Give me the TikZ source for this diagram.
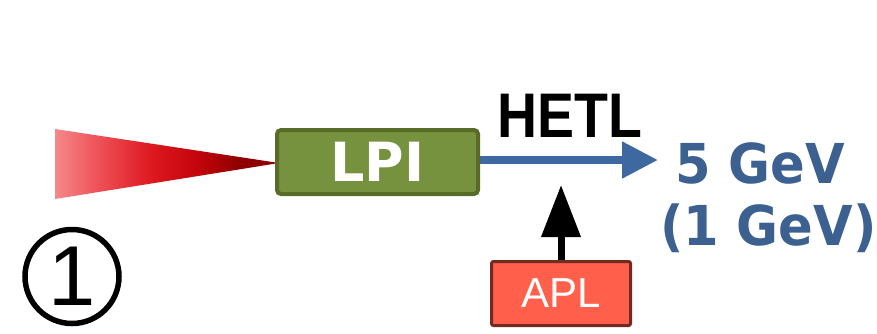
\documentclass[tikz,border=0pt]{standalone}
\usepackage{fontspec}
\setmainfont{DejaVu Sans}
\newfontfamily\aplfont{Liberation Sans}
\newfontfamily\hetlfont{Liberation Sans}[FakeStretch=0.88]
\newfontfamily\energyfont{DejaVu Sans}[FakeStretch=0.93]
\usetikzlibrary{arrows.meta,calc,positioning}
\definecolor{lpigreen}{RGB}{118,146,62}
\definecolor{lpiborder}{RGB}{88,108,40}
\definecolor{aplred}{RGB}{255,95,75}
\definecolor{aplborder}{RGB}{115,42,32}
\definecolor{beamblue}{RGB}{62,104,160}
\definecolor{energyblue}{RGB}{60,96,144}
\pgfdeclarehorizontalshading{laserpulse}{100bp}{
  rgb(0bp)=(0.965,0.533,0.541);
  rgb(25bp)=(0.965,0.533,0.541);
  rgb(36bp)=(0.925,0.290,0.318);
  rgb(47bp)=(0.863,0.090,0.118);
  rgb(57bp)=(0.760,0.015,0.045);
  rgb(66bp)=(0.560,0,0);
  rgb(100bp)=(0.560,0,0)}
\tikzset{
lpibox/.style={draw=lpiborder, fill=lpigreen, line width=4pt, rounded corners=4pt,
  minimum width=201pt, minimum height=64pt, inner sep=0pt, text=white,
  font=\bfseries\fontsize{54}{60}\selectfont},
aplbox/.style={draw=aplborder, fill=aplred, line width=3pt, rounded corners=2pt,
  minimum width=139pt, minimum height=64pt, inner sep=0pt, text=white,
  font=\aplfont\fontsize{42}{46}\selectfont},
beamarrow/.style={-{Triangle[length=36pt, width=35pt]}, line width=8pt, draw=beamblue},
injarrow/.style={-{Triangle[length=52pt, width=38pt]}, line width=7pt, draw=black},
energylabel/.style={font=\energyfont\bfseries\fontsize{55}{63}\selectfont, text=energyblue, inner sep=0pt, anchor=base west},
linelabel/.style={font=\hetlfont\bfseries\fontsize{63}{66}\selectfont, inner sep=0pt}
}
\begin{document}
\begin{tikzpicture}[x=1pt,y=-1pt]
\useasboundingbox (0,0) rectangle (877,333);

% laser pulse
\shade[shading=laserpulse] (55,129) -- (279,163) -- (55,199) -- cycle;

\node[lpibox] (lpi) at (377.5,162) {LPI};

\coordinate (beamend) at (658,160);
\draw[beamarrow] (lpi.east |- beamend) -- (beamend);
\node[linelabel, anchor=base] (hetl) at (570,137) {HETL};

\node[energylabel] (energy) at (675,183) {5 GeV};
\node[energylabel] (energylow) at (660,245) {(1 GeV)};

\node[aplbox] (apl) at (561,293.5) {APL};
\coordinate (apltip) at (561,185);
\draw[injarrow] (apl.north) -- (apltip);

% stage number
\node[draw, circle, line width=5.5pt, minimum size=94pt, inner sep=0pt,
  font=\aplfont\fontsize{85}{85}\selectfont] (stage) at (72,276.5) {1};

\end{tikzpicture}
\end{document}
